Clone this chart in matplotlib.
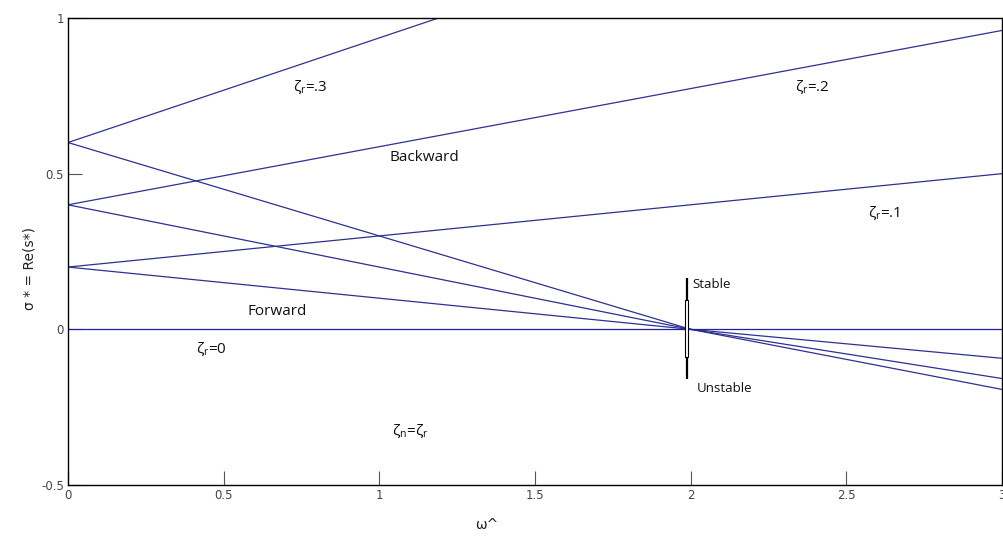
import matplotlib.pyplot as plt
from matplotlib.patches import Rectangle

plt.rcParams['mathtext.fontset'] = 'custom'
plt.rcParams['mathtext.rm'] = 'Open Sans'
plt.rcParams['mathtext.it'] = 'Open Sans'

# backward whirl branches (zeta_r = .1, .2, .3)
bw_w = [[0, 3], [0, 3], [0, 1.19]]
bw_s = [[0.2, 0.5], [0.4, 0.96], [0.6, 1.0]]

# forward whirl branches, all crossing zero at w = 2
fw_w = [0, 2, 3]
fw_s = [[0.2, 0.0, -0.093], [0.4, 0.0, -0.158], [0.6, 0.0, -0.193]]

# zeta_r = 0 branch
zero_w = [0, 3]
zero_s = [0, 0]

line_col = '#2e3190'

fig = plt.figure(figsize=(10.04, 5.36), dpi=100)
ax = fig.add_axes([68 / 1004, 51 / 536, 934 / 1004, 467 / 536])

for w, s in zip(bw_w, bw_s):
    ax.plot(w, s, color=line_col, lw=0.9)
for s in fw_s:
    ax.plot(fw_w, s, color=line_col, lw=0.9)
ax.plot(zero_w, zero_s, color='#2222a0', lw=0.9)

# stability marker at the crossing point
ax.plot([1.987, 1.987], [0.164, -0.158], color='black', lw=1.6, solid_capstyle='butt', zorder=5)
ax.add_patch(Rectangle((1.987 - 0.006, -0.09), 0.012, 0.183, facecolor='white',
                       edgecolor='black', lw=0.8, zorder=6))

ax.set_xlim(0, 3)
ax.set_ylim(-0.5, 1)
ax.set_xticks([0, 0.5, 1, 1.5, 2, 2.5, 3])
ax.set_xticklabels(['0', '0.5', '1', '1.5', '2', '2.5', '3'])
ax.set_yticks([-0.5, 0, 0.5, 1])
ax.set_yticklabels(['-0.5', '0', '0.5', '1'])
ax.tick_params(direction='in', length=10, width=0.8, color='#555555',
               labelsize=8.5, labelcolor='#444444', pad=3)
for sp in ax.spines.values():
    sp.set_linewidth(1.0)

lab = dict(family='Open Sans', fontsize=11, color='#111111')
ax.text(0.777, 0.778, r'$\zeta_r$=.3', ha='center', va='center', **lab)
ax.text(2.39, 0.778, r'$\zeta_r$=.2', ha='center', va='center', **lab)
ax.text(2.62, 0.373, r'$\zeta_r$=.1', ha='center', va='center', **lab)
ax.text(1.146, 0.553, 'Backward', ha='center', va='center', **lab)
ax.text(0.671, 0.058, 'Forward', ha='center', va='center', **lab)
ax.text(0.459, -0.064, r'$\zeta_r$=0', ha='center', va='center', **lab)
ax.text(1.098, -0.325, r'$\zeta_n$=$\zeta_r$', ha='center', va='center', **lab)
ax.text(2.006, 0.145, 'Stable', ha='left', va='center', family='Open Sans', fontsize=9.5, color='#111111')
ax.text(2.02, -0.19, 'Unstable', ha='left', va='center', family='Open Sans', fontsize=9.5, color='#111111')

fig.text(30 / 1004, 1 - 268 / 536, 'σ * = Re(s*)', rotation=90, ha='center', va='center',
         fontsize=10, color='#222222')
fig.text(487 / 1004, 1 - 525 / 536, 'ω^', ha='center', va='center', fontsize=10, color='#222222')

fig.savefig('out.png', dpi=100)
